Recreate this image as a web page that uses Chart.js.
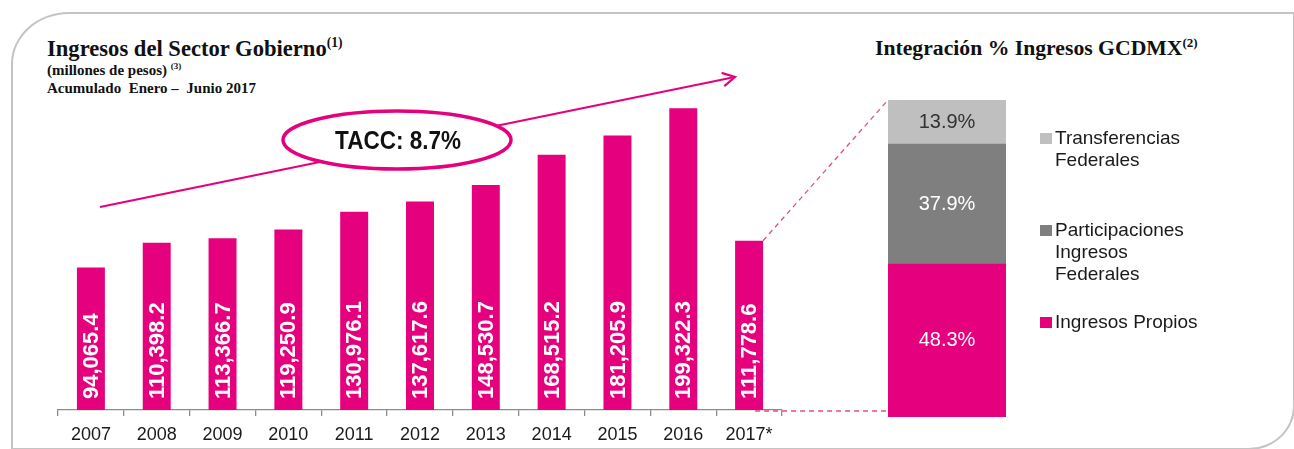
<!DOCTYPE html>
<html>
<head>
<meta charset="utf-8">
<script src="https://cdn.jsdelivr.net/npm/chart.js@4.4.1/dist/chart.umd.min.js"></script>
<style>
  html, body { margin:0; padding:0; background:#fff; }
  body { width:1294px; height:449px; position:relative; overflow:hidden; font-family:"Liberation Sans", Arial, sans-serif; }
  #frame { position:absolute; left:11px; top:12px; width:1284px; height:438px; border:2px solid #c4c4c4;
           border-top-left-radius:58px 52px; border-bottom-right-radius:46px 44px; box-sizing:border-box; }
  .serif { font-family:"Liberation Serif", "Times New Roman", serif; font-weight:bold; color:#111; position:absolute; white-space:nowrap; }
  .serif sup { font-size:0.6em; vertical-align:0; position:relative; top:-0.65em; }
  #leftTitle { left:47px; top:36px; font-size:22.6px; }
  #sub1 { left:47px; top:62px; font-size:15px; }
  #sub2 { left:47px; top:80px; font-size:15px; }
  #rightTitle { left:875px; top:36px; font-size:21.7px; }
  #cLeft { position:absolute; left:0; top:0; }
  #cRight { position:absolute; left:880px; top:0; }
  #legend { position:absolute; left:1040px; top:0; font-family:"Liberation Sans", Arial, sans-serif; font-size:19px; color:#1a1a1a; line-height:22px; }
  .li { position:absolute; left:0; white-space:nowrap; }
  .li .sw { position:absolute; left:0; top:6px; width:12px; height:11px; }
  .li .tx { position:absolute; left:15px; top:0; }
</style>
</head>
<body>
<div id="frame"></div>
<div id="leftTitle" class="serif">Ingresos del Sector Gobierno<sup>(1)</sup></div>
<div id="sub1" class="serif">(millones de pesos) <sup>(3)</sup></div>
<div id="sub2" class="serif">Acumulado&nbsp; Enero –&nbsp; Junio 2017</div>
<div id="rightTitle" class="serif">Integración % Ingresos GCDMX<sup>(2)</sup></div>
<canvas id="cLeft" width="888" height="449"></canvas>
<canvas id="cRight" width="414" height="449"></canvas>
<div id="legend"></div>
<script>
// ---- data ----
const years = ['2007','2008','2009','2010','2011','2012','2013','2014','2015','2016','2017*'];
const ingresos = [94065.4, 110398.2, 113366.7, 119250.9, 130976.1, 137617.6, 148530.7, 168515.2, 181205.9, 199322.3, 111778.6];
const taccLabel = 'TACC: 8.7%';
const composicionLabels = ['Ingresos Propios', 'Participaciones Ingresos Federales', 'Transferencias Federales'];
const composicionValores = [48.3, 37.9, 13.9];
const composicionLegendLines = [['Ingresos Propios'], ['Participaciones', 'Ingresos', 'Federales'], ['Transferencias', 'Federales']];

// ---- styles ----
const PINK = '#E5007D';
const compColors = [PINK, '#7F7F7F', '#BFBFBF'];
const compTextColors = ['#ffffff', '#ffffff', '#333333'];

Chart.defaults.font.family = '"Liberation Sans", Arial, sans-serif';
Chart.defaults.animation = false;

const fmt = v => v.toLocaleString('en-US', {minimumFractionDigits:1, maximumFractionDigits:1});

const leftPlugin = {
  id: 'leftDeco',
  afterDatasetsDraw(chart) {
    const ctx = chart.ctx;
    const meta = chart.getDatasetMeta(0);
    const base = chart.scales.y.getPixelForValue(0);
    // value labels rotated
    ctx.save();
    ctx.fillStyle = '#ffffff';
    ctx.font = 'bold 22px "Liberation Sans", Arial, sans-serif';
    ctx.textAlign = 'left';
    ctx.textBaseline = 'middle';
    meta.data.forEach((bar, i) => {
      ctx.save();
      ctx.translate(bar.x + 1, base - 11);
      ctx.rotate(-Math.PI / 2);
      ctx.fillText(fmt(ingresos[i]), 0, 0);
      ctx.restore();
    });
    ctx.restore();

    // dashed connectors from last bar to composition bar
    const last = meta.data[meta.data.length - 1];
    const rx = chart.width;
    ctx.save();
    ctx.strokeStyle = '#E0507F';
    ctx.lineWidth = 1.3;
    ctx.setLineDash([5, 4]);
    ctx.beginPath();
    ctx.moveTo(last.x + last.width / 2, last.y);
    ctx.lineTo(rx, 100);
    ctx.moveTo(last.x + last.width / 2 - 8, base + 1);
    ctx.lineTo(rx, base + 1);
    ctx.stroke();
    ctx.restore();

    // trend arrow
    const x0 = 100, y0 = 207, x1 = 735, y1 = 77;
    ctx.save();
    ctx.strokeStyle = PINK;
    ctx.lineWidth = 2.2;
    ctx.beginPath();
    ctx.moveTo(x0, y0);
    ctx.lineTo(x1, y1);
    ctx.stroke();
    const ang = Math.atan2(y1 - y0, x1 - x0);
    ctx.beginPath();
    ctx.moveTo(x1 - 14 * Math.cos(ang - 0.5), y1 - 14 * Math.sin(ang - 0.5));
    ctx.lineTo(x1, y1);
    ctx.lineTo(x1 - 14 * Math.cos(ang + 0.5), y1 - 14 * Math.sin(ang + 0.5));
    ctx.stroke();
    // ellipse
    ctx.beginPath();
    ctx.ellipse(397, 140, 114, 29, 0, 0, Math.PI * 2);
    ctx.fillStyle = '#ffffff';
    ctx.fill();
    ctx.lineWidth = 3.5;
    ctx.stroke();
    ctx.fillStyle = '#111';
    ctx.font = 'bold 25px "Liberation Sans", Arial, sans-serif';
    ctx.textAlign = 'center';
    ctx.textBaseline = 'middle';
    ctx.translate(398, 142);
    ctx.scale(0.9, 1);
    ctx.fillText(taccLabel, 0, 0);
    ctx.restore();
  }
};

new Chart(document.getElementById('cLeft'), {
  type: 'bar',
  data: {
    labels: years,
    datasets: [{ data: ingresos, backgroundColor: PINK, barPercentage: 0.425, categoryPercentage: 1.0 }]
  },
  options: {
    responsive: false,
    layout: { padding: { left: 58, right: 106, top: 92, bottom: 0 } },
    plugins: { legend: { display: false }, tooltip: { enabled: false } },
    scales: {
      y: { display: false, min: 0, max: 210000 },
      x: {
        afterFit(scale) { scale.height = 39; },
        border: { display: true, color: '#8c8c8c', width: 1.3 },
        grid: { display: true, drawOnChartArea: false, drawTicks: true, tickLength: 6, color: '#8c8c8c', lineWidth: 1.3, offset: true },
        ticks: { color: '#1a1a1a', font: { size: 18 }, padding: 8 }
      }
    }
  },
  plugins: [leftPlugin]
});

const rightPlugin = {
  id: 'rightLabels',
  afterDatasetsDraw(chart) {
    const ctx = chart.ctx;
    ctx.save();
    ctx.font = '20px "Liberation Sans", Arial, sans-serif';
    ctx.textAlign = 'center';
    ctx.textBaseline = 'middle';
    chart.data.datasets.forEach((ds, i) => {
      const el = chart.getDatasetMeta(i).data[0];
      const cy = (el.y + el.base) / 2;
      ctx.fillStyle = compTextColors[i];
      ctx.fillText(composicionValores[i].toFixed(1) + '%', el.x, cy);
    });
    ctx.restore();
  }
};

new Chart(document.getElementById('cRight'), {
  type: 'bar',
  data: {
    labels: ['2017'],
    datasets: composicionLabels.map((l, i) => ({
      label: l, data: [composicionValores[i]], backgroundColor: compColors[i],
      barPercentage: 1.0, categoryPercentage: 1.0
    }))
  },
  options: {
    responsive: false,
    layout: { padding: { left: 8, right: 288, top: 100, bottom: 32 } },
    plugins: { legend: { display: false }, tooltip: { enabled: false } },
    scales: {
      x: { display: false, stacked: true },
      y: { display: false, stacked: true, min: 0, max: composicionValores.reduce((a, b) => a + b, 0) }
    }
  },
  plugins: [rightPlugin]
});

// HTML legend (top to bottom: reverse of stacking order)
const legend = document.getElementById('legend');
const legendTops = { 2: 127, 1: 219, 0: 311 };
[2, 1, 0].forEach(i => {
  const d = document.createElement('div');
  d.className = 'li';
  d.style.top = legendTops[i] + 'px';
  const sw = document.createElement('div');
  sw.className = 'sw';
  sw.style.background = compColors[i];
  const tx = document.createElement('div');
  tx.className = 'tx';
  tx.innerHTML = composicionLegendLines[i].join('<br>');
  d.appendChild(sw); d.appendChild(tx);
  legend.appendChild(d);
});
</script>
</body>
</html>
